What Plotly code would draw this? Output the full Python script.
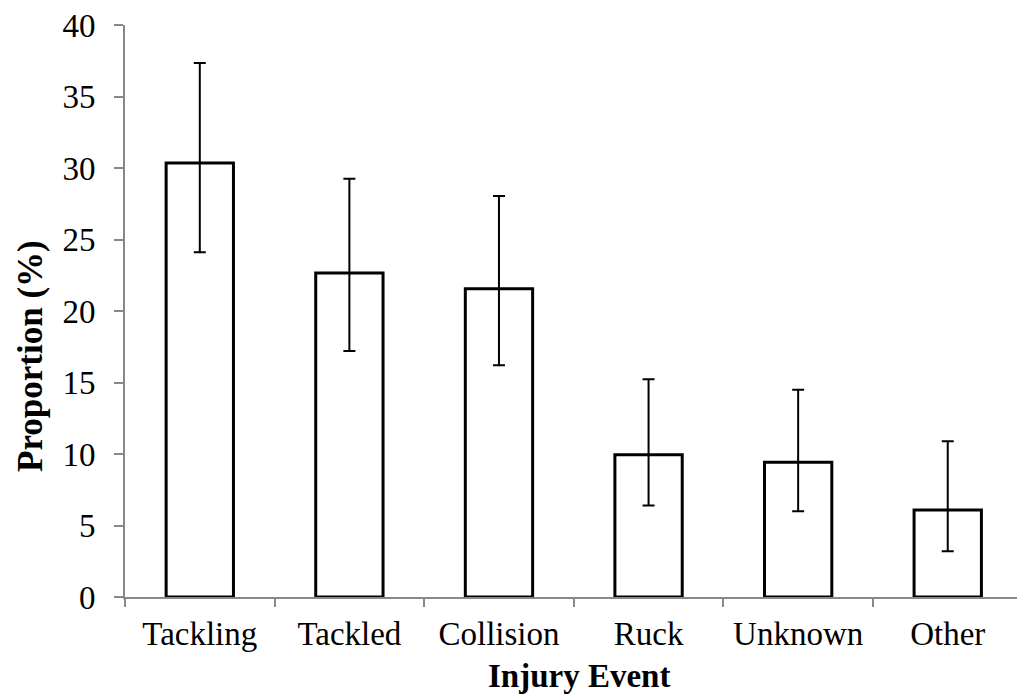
import plotly.graph_objects as go

categories = ["Tackling", "Tackled", "Collision", "Ruck", "Unknown", "Other"]
proportion = [30.35, 22.65, 21.55, 9.95, 9.42, 6.08]
ci_upper = [37.35, 29.25, 28.05, 15.22, 14.5, 10.9]
ci_lower = [24.1, 17.2, 16.2, 6.4, 6.0, 3.2]

err_plus = [u - p for u, p in zip(ci_upper, proportion)]
err_minus = [p - l for p, l in zip(proportion, ci_lower)]

FONT = "Liberation Serif"
W, H = 1017, 695
ML, MR, MT, MB = 125, 0, 25, 98
plot_w = W - ML - MR
plot_h = H - MT - MB


def px_to_paper(px, py):
    return (px - ML) / plot_w, (H - MB - py) / plot_h


fig = go.Figure()
fig.add_trace(go.Bar(
    x=categories,
    y=proportion,
    marker=dict(color="white", line=dict(color="black", width=3)),
    error_y=dict(type="data", symmetric=False, array=err_plus, arrayminus=err_minus,
                 color="black", thickness=2, width=6),
    showlegend=False,
))

xt_x, xt_y = px_to_paper(579, 676)
yt_x, yt_y = px_to_paper(30, 356)

fig.update_layout(
    width=W, height=H,
    margin=dict(l=ML, r=MR, t=MT, b=MB),
    paper_bgcolor="white", plot_bgcolor="white",
    bargap=0.55,
    font=dict(family=FONT, size=33, color="black"),
    xaxis=dict(
        range=[-0.5, 5.463], showline=True, linecolor="#888888", linewidth=2,
        ticks="outside", tickson="boundaries", ticklen=8, tickcolor="#888888", tickwidth=1.5,
        tickfont=dict(family=FONT, size=33, color="black"), showgrid=False,
        ticklabelstandoff=6,
    ),
    yaxis=dict(
        range=[0, 40], dtick=5, showline=True, linecolor="#888888", linewidth=2,
        ticks="outside", ticklen=9, tickcolor="#888888", tickwidth=1.5,
        tickfont=dict(family=FONT, size=33, color="black"), showgrid=False,
        zeroline=False, ticklabelstandoff=12,
    ),
    annotations=[
        dict(text="<b>Injury Event</b>", x=xt_x, y=xt_y, xref="paper", yref="paper",
             xanchor="center", yanchor="middle",
             showarrow=False, font=dict(family=FONT, size=33, color="black")),
        dict(text="<b>Proportion (%)</b>", x=yt_x, y=yt_y, xref="paper", yref="paper",
             xanchor="center", yanchor="middle", textangle=-90,
             showarrow=False, font=dict(family=FONT, size=35, color="black")),
    ],
)

fig.write_html("out.html")
